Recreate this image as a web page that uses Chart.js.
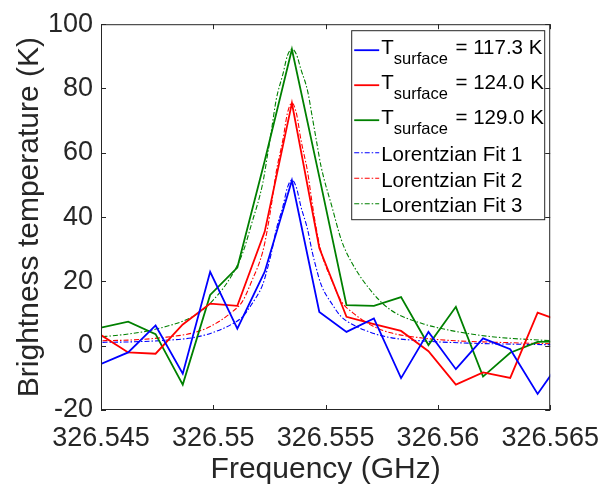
<!DOCTYPE html>
<html lang="en">
<head>
  <meta charset="UTF-8">
  <title>Brightness temperature vs frequency</title>
  <script src="https://cdn.jsdelivr.net/npm/chart.js"></script>
  <style>
    body { margin: 0; background: #fff; }
    canvas { display: block; }
  </style>
</head>
<body>
  <canvas id="chart" width="611" height="490"></canvas>

  <script>
    // channel frequencies (GHz)
    const freq = [326.54500, 326.54621, 326.54743, 326.54864, 326.54986, 326.55107,
                  326.55229, 326.55350, 326.55472, 326.55593, 326.55715, 326.55836,
                  326.55958, 326.56080, 326.56201, 326.56322, 326.56444, 326.56565];

    // measured brightness temperature (K)
    const tb117 = [-5.7, -2.1, 6.3, -8.7, 23.0, 5.3, 23.0, 51.4, 10.5, 4.3,
                   8.5, -10.1, 4.3, -7.3, 2.3, -1.1, -15.0, -3.0];
    const tb124 = [3.3, -2.1, -2.5, 6.6, 13.1, 12.4, 35.5, 75.5, 30.4, 9.0,
                   6.7, 4.6, -1.7, -12.1, -8.3, -10.0, 10.3, 7.2];
    const tb129 = [5.6, 7.5, 3.6, -12.1, 15.8, 24.3, 57.5, 92.2, 52.5, 12.6,
                   12.4, 15.1, 0.2, 12.1, -9.6, -2.2, 1.2, 1.4];

    // lorentzian fit curves, sampled
    const fitFreq = [326.5446, 326.5464, 326.5477, 326.5491, 326.5499, 326.5508, 326.5513,
                     326.5517, 326.5522, 326.5524, 326.5526, 326.5528, 326.5531, 326.5533,
                     326.5535, 326.5537, 326.5539, 326.5542, 326.5544, 326.5546, 326.5548,
                     326.5553, 326.5557, 326.5562, 326.5571, 326.5579, 326.5593, 326.5606,
                     326.5624, 326.5651];
    const fit1 = [1.0, 1.2, 1.6, 2.5, 3.9, 6.6, 9.0, 12.8, 19.0, 23.7, 29.3, 36.1, 43.3, 49.2,
                  51.5, 49.2, 43.3, 36.1, 29.3, 23.7, 19.0, 12.8, 9.0, 6.6, 3.9, 2.5, 1.5, 1.0,
                  0.6, 0.3];
    const fit2 = [1.5, 1.8, 2.5, 4.0, 6.1, 10.3, 13.8, 19.9, 29.2, 35.9, 44.4, 54.0, 64.1, 72.3,
                  75.5, 72.3, 64.1, 54.0, 44.4, 35.9, 29.2, 19.9, 13.8, 10.3, 6.1, 4.0, 2.4, 1.6,
                  1.1, 0.6];
    const fit3 = [2.5, 3.8, 5.6, 9.1, 13.5, 21.6, 28.7, 37.8, 50.5, 58.7, 67.5, 76.5, 84.5, 90.2,
                  92.3, 90.6, 86.0, 79.2, 71.4, 63.4, 55.7, 42.8, 32.9, 25.4, 16.4, 11.1, 6.9, 4.7,
                  2.8, 1.5];

    const xTicks = [326.545, 326.55, 326.555, 326.56, 326.565];
    const xTickLabels = ['326.545', '326.55', '326.555', '326.56', '326.565'];
    const surfaceTemps = ['117.3', '124.0', '129.0'];
    const fitNames = ['Lorentzian Fit 1', 'Lorentzian Fit 2', 'Lorentzian Fit 3'];

    const colors = ['#0000ff', '#ff0000', '#008000'];
    const FONT = "'Liberation Sans', Arial, sans-serif";
    const dashDot = [5, 2, 1.5, 2];

    const pts = (xs, ys) => xs.map((x, i) => ({ x: x, y: ys[i] }));

    const measured = [tb117, tb124, tb129].map((d, i) => ({
      data: pts(freq, d),
      borderColor: colors[i],
      borderWidth: 1.8,
      pointRadius: 0,
      tension: 0
    }));
    const fits = [fit1, fit2, fit3].map((d, i) => ({
      data: pts(fitFreq, d),
      borderColor: colors[i],
      borderWidth: 1.1,
      borderDash: dashDot,
      pointRadius: 0,
      cubicInterpolationMode: 'monotone'
    }));

    // box around the axes with inward ticks (matlab style)
    const frame = {
      id: 'frame',
      afterDatasetsDraw(chart) {
        const { ctx, chartArea: a, scales: { x, y } } = chart;
        const t = 5;
        ctx.save();
        ctx.strokeStyle = '#262626';
        ctx.lineWidth = 1;
        ctx.strokeRect(a.left + 0.5, a.top + 0.5, a.width - 1, a.height - 1);
        ctx.beginPath();
        x.ticks.forEach(tk => {
          const px = Math.round(x.getPixelForValue(tk.value)) + 0.5;
          ctx.moveTo(px, a.bottom); ctx.lineTo(px, a.bottom - t);
          ctx.moveTo(px, a.top); ctx.lineTo(px, a.top + t);
        });
        y.ticks.forEach(tk => {
          const py = Math.round(y.getPixelForValue(tk.value)) + 0.5;
          ctx.moveTo(a.left, py); ctx.lineTo(a.left + t, py);
          ctx.moveTo(a.right, py); ctx.lineTo(a.right - t, py);
        });
        ctx.stroke();
        ctx.restore();
      }
    };

    // legend with subscripts, drawn by hand
    const legendBox = {
      id: 'legendBox',
      afterDraw(chart) {
        const { ctx, chartArea: a } = chart;
        const left = a.right - 199, top = a.top + 6, w = 193, h = 189;
        ctx.save();
        ctx.fillStyle = '#fff';
        ctx.fillRect(left, top, w, h);
        ctx.strokeStyle = '#262626';
        ctx.lineWidth = 1;
        ctx.strokeRect(left + 0.5, top + 0.5, w, h);

        const lx0 = left + 3, lx1 = left + 28, tx = left + 30;
        ctx.textBaseline = 'alphabetic';
        ctx.fillStyle = '#000';
        surfaceTemps.forEach((temp, i) => {
          const base = top + 24 + i * 35;
          ctx.strokeStyle = colors[i];
          ctx.lineWidth = 1.8;
          ctx.setLineDash([]);
          ctx.beginPath(); ctx.moveTo(lx0, base - 4); ctx.lineTo(lx1, base - 4); ctx.stroke();
          ctx.font = '20.5px ' + FONT;
          ctx.fillText('T', tx, base);
          let x = tx + ctx.measureText('T').width;
          ctx.font = '16.5px ' + FONT;
          ctx.fillText('surface', x, base + 10);
          x += ctx.measureText('surface').width + 2;
          ctx.font = '20.5px ' + FONT;
          ctx.fillText(' = ' + temp + ' K', x, base);
        });
        fitNames.forEach((name, i) => {
          const base = top + 131 + i * 25.5;
          ctx.strokeStyle = colors[i];
          ctx.lineWidth = 1.1;
          ctx.setLineDash(dashDot);
          ctx.beginPath(); ctx.moveTo(lx0, base - 8.5); ctx.lineTo(lx1, base - 8.5); ctx.stroke();
          ctx.font = '20.5px ' + FONT;
          ctx.fillText(name, tx, base);
        });
        ctx.restore();
      }
    };

    new Chart(document.getElementById('chart'), {
      type: 'line',
      data: { datasets: measured.concat(fits) },
      options: {
        responsive: false,
        animation: false,
        layout: { padding: { top: 17, right: 60, left: 0, bottom: 0 } },
        plugins: { legend: { display: false }, tooltip: { enabled: false } },
        scales: {
          x: {
            type: 'linear',
            min: 326.545,
            max: 326.565,
            afterBuildTicks: s => { s.ticks = xTicks.map(v => ({ value: v })); },
            afterFit: s => { s.height = 80; },
            grid: { display: false, drawTicks: false },
            border: { display: false },
            ticks: {
              autoSkip: false,
              maxRotation: 0,
              padding: 12,
              color: '#262626',
              font: { family: FONT, size: 27 },
              callback: (v, i) => xTickLabels[i]
            },
            title: {
              display: true,
              text: 'Frequency (GHz)',
              color: '#262626',
              font: { family: FONT, size: 30 },
              padding: { top: 0, bottom: 2 }
            }
          },
          y: {
            min: -20,
            max: 100,
            afterFit: s => { s.width = 101; },
            grid: { display: false, drawTicks: false },
            border: { display: false },
            ticks: {
              stepSize: 20,
              padding: 8,
              color: '#262626',
              font: { family: FONT, size: 27 }
            },
            title: {
              display: true,
              text: 'Brightness temperature (K)',
              color: '#262626',
              font: { family: FONT, size: 30 },
              padding: { top: 12, bottom: 0 }
            }
          }
        }
      },
      plugins: [frame, legendBox]
    });
  </script>
</body>
</html>
